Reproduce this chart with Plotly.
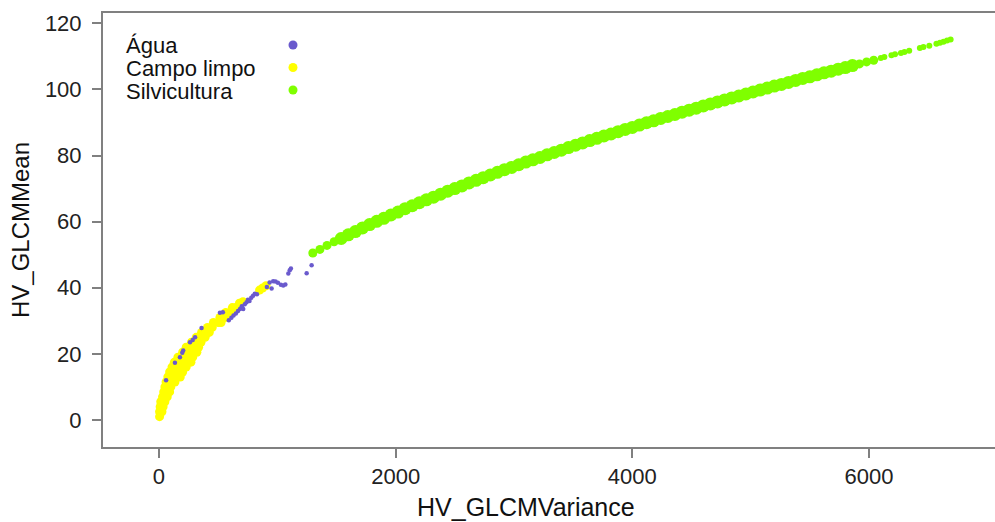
import plotly.graph_objects as go

# ---------------- data ----------------
agua_x = [60, 135, 177, 197, 205, 262, 285, 305, 360, 515, 540,
          590, 612, 630, 650, 668, 685, 700, 712, 725, 740, 752, 765, 780, 795, 810, 828,
          912, 935, 952, 965, 985, 1005, 1030, 1050, 1068, 1093, 1105, 1115, 1248, 1290]
agua_y = [12.0, 17.3, 19.0, 20.3, 21.0, 23.5, 24.2, 25.0, 27.8, 32.4, 32.6,
          30.2, 30.9, 31.6, 32.2, 33.0, 33.6, 34.4, 33.6, 35.0, 35.6, 36.4, 36.0, 37.0, 37.6, 38.2, 38.0,
          40.2, 41.6, 39.8, 42.0, 41.9, 41.5, 40.9, 40.7, 41.0, 44.3, 45.3, 45.8, 44.4, 46.8]

campo_x = [5,
           5, 25,
           10, 35,
           15, 50,
           30, 70,
           40, 90,
           50, 100,
           60, 100, 135,
           75, 115, 155, 180,
           90, 130, 170, 200,
           110, 150, 190, 230,
           130, 170, 210, 250, 270,
           160, 200, 240, 285,
           200, 240, 280, 320,
           230, 270, 310, 335,
           275, 315, 355,
           315, 355, 390,
           360, 400, 425,
           410, 450,
           460, 500, 525,
           515, 560,
           565, 610,
           620, 650,
           680, 710, 850, 875, 905]
campo_y = [1.0,
           2.5, 2.5,
           4.0, 4.0,
           5.5, 5.5,
           7.0, 7.0,
           8.5, 8.5,
           10.0, 10.0,
           11.5, 11.5, 11.5,
           13.0, 13.0, 13.0, 13.0,
           14.5, 14.5, 14.5, 14.5,
           16.0, 16.0, 16.0, 16.0,
           17.5, 17.5, 17.5, 17.5, 17.5,
           19.0, 19.0, 19.0, 19.0,
           20.5, 20.5, 20.5, 20.5,
           22.0, 22.0, 22.0, 22.0,
           23.5, 23.5, 23.5,
           25.0, 25.0, 25.0,
           26.5, 26.5, 26.5,
           28.0, 28.0,
           29.5, 29.5, 29.5,
           31.0, 31.0,
           32.5, 32.5,
           34.0, 34.0,
           35.3, 35.8, 39.3, 39.9, 40.6]

silv_x = [1300, 1360, 1420, 1480, 1540, 1600, 1660, 1720, 1780, 1840, 1900, 1960,
          2020, 2080, 2140, 2200, 2260, 2320, 2380, 2440, 2500, 2560, 2620, 2680,
          2740, 2800, 2860, 2920, 2980, 3040, 3100, 3160, 3220, 3280, 3340, 3400,
          3460, 3520, 3580, 3640, 3700, 3760, 3820, 3880, 3940, 4000, 4060, 4120,
          4180, 4240, 4300, 4360, 4420, 4480, 4540, 4600, 4660, 4720, 4780, 4840,
          4900, 4960, 5020, 5080, 5140, 5200, 5260, 5320, 5380, 5440, 5500, 5560,
          5620, 5680, 5740, 5800, 5860, 5920, 5980, 6040,
          6100, 6130, 6190, 6220, 6270, 6300, 6340, 6430, 6460, 6510, 6570, 6600,
          6630, 6660, 6690]
silv_y = [50.5, 51.6, 52.8, 53.9, 54.9, 56.0, 57.0, 58.1, 59.1, 60.1, 61.0, 62.0,
          62.9, 63.9, 64.8, 65.7, 66.6, 67.4, 68.3, 69.2, 70.0, 70.8, 71.7, 72.5,
          73.3, 74.1, 74.9, 75.7, 76.4, 77.2, 78.0, 78.7, 79.4, 80.2, 80.9, 81.6,
          82.4, 83.1, 83.8, 84.5, 85.2, 85.9, 86.5, 87.2, 87.9, 88.5, 89.2, 89.9,
          90.5, 91.2, 91.8, 92.4, 93.1, 93.7, 94.3, 95.0, 95.6, 96.2, 96.8, 97.4,
          98.0, 98.6, 99.2, 99.8, 100.4, 101.0, 101.5, 102.1, 102.7, 103.3, 103.8, 104.4,
          105.0, 105.5, 106.1, 106.6, 107.2, 107.7, 108.3, 108.8,
          109.5, 109.8, 110.3, 110.6, 111.0, 111.3, 111.7, 112.5, 112.8, 113.2, 113.8, 114.1,
          114.4, 114.8, 115.1]

x_ticks = [0, 2000, 4000, 6000]
y_ticks = [0, 20, 40, 60, 80, 100, 120]

series_names = ["Água", "Campo limpo", "Silvicultura"]
series_colors = ["#6A5ACD", "#FFFF00", "#7FFF00"]

# ---------------- figure ----------------
W, H = 995, 522
ML, MR, MT, MB = 103, 0, 13, 75
PW, PH = W - ML - MR, H - MT - MB
FONT = "Liberation Sans, Arial, sans-serif"

fig = go.Figure()

fig.add_trace(go.Scatter(x=campo_x, y=campo_y, mode="markers", name=series_names[1],
                         marker=dict(color=series_colors[1], size=9, line=dict(width=0))))
fig.add_trace(go.Scatter(x=agua_x, y=agua_y, mode="markers", name=series_names[0],
                         marker=dict(color=series_colors[0], size=4.5, line=dict(width=0))))

def seg(lo, hi):
    xs = [x for x in silv_x if lo <= x < hi]
    ys = [y for x, y in zip(silv_x, silv_y) if lo <= x < hi]
    return xs, ys

for (lo, hi, sz) in [(0, 1500, 9), (1500, 5900, 13), (5900, 6070, 9), (6070, 99999, 6)]:
    xs, ys = seg(lo, hi)
    fig.add_trace(go.Scatter(x=xs, y=ys, mode="markers", name=series_names[2],
                             marker=dict(color=series_colors[2], size=sz, line=dict(width=0))))

def px2paper_x(px):
    return (px - ML) / PW

def px2paper_y(py):
    return (H - MB - py) / PH

legend_rows_py = [46, 68.5, 91]
annotations = []
shapes = []
for name, col, py in zip(series_names, series_colors, legend_rows_py):
    annotations.append(dict(text=name, xref="paper", yref="paper",
                            x=px2paper_x(124), y=px2paper_y(py), xanchor="left", yanchor="middle",
                            showarrow=False, font=dict(family=FONT, size=22, color="#111")))
    shapes.append(dict(type="circle", xref="paper", yref="paper",
                       xsizemode="pixel", ysizemode="pixel",
                       xanchor=px2paper_x(293), yanchor=px2paper_y(py - 1),
                       x0=-4.5, x1=4.5, y0=-4.5, y1=4.5,
                       fillcolor=col, line=dict(width=0)))

annotations.append(dict(text="HV_GLCMVariance", xref="paper", yref="paper",
                        x=px2paper_x(526), y=px2paper_y(507), xanchor="center", yanchor="middle",
                        showarrow=False, font=dict(family=FONT, size=25, color="#111")))
annotations.append(dict(text="HV_GLCMMean", xref="paper", yref="paper",
                        x=px2paper_x(20), y=px2paper_y(230), xanchor="center", yanchor="middle",
                        textangle=-90, showarrow=False, font=dict(family=FONT, size=24, color="#111")))

axis_common = dict(showgrid=False, zeroline=False, ticks="outside", ticklen=9, tickwidth=1.5,
                   tickcolor="#808080", showline=True, linecolor="#808080", linewidth=2,
                   tickfont=dict(family=FONT, size=22, color="#222"))

fig.update_layout(
    width=W, height=H,
    margin=dict(l=ML, r=MR, t=MT, b=MB, pad=0),
    paper_bgcolor="white", plot_bgcolor="white",
    showlegend=False,
    xaxis=dict(range=[-473, 7065], tickvals=x_ticks, ticktext=[str(v) for v in x_ticks],
               mirror=True, **axis_common),
    yaxis=dict(range=[-8.17, 123.1], tickvals=y_ticks, ticktext=[str(v) for v in y_ticks],
               mirror=False, ticklabelstandoff=6, **axis_common),
    annotations=annotations,
    shapes=shapes,
)

fig.write_html("out.html")
